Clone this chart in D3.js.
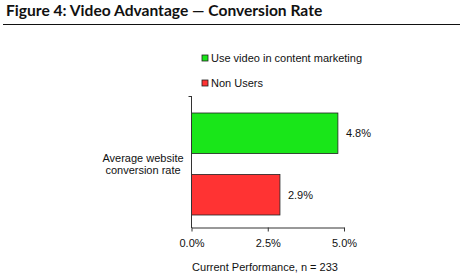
<!DOCTYPE html>
<html>
<head>
<meta charset="utf-8">
<script src="https://cdn.jsdelivr.net/npm/d3@7"></script>
<style>
  body { margin: 0; background: #fff; }
  text { font-family: "Liberation Sans", Arial, sans-serif; fill: #111; }
  .title { font-family: Lato, "DejaVu Sans", sans-serif; font-weight: 700; font-size: 15.6px; }
</style>
</head>
<body>
<script>
// chart data
const series = ["Use video in content marketing", "Non Users"];
const values = [4.8, 2.9];
const colors = ["#19e619", "#ff3333"];
const category = ["Average website", "conversion rate"];
const ticks = [0, 2.5, 5.0];

const W = 460, H = 278;

const svg = d3.select("body").append("svg")
    .attr("width", W)
    .attr("height", H);

// title + rule
svg.append("text")
    .attr("class", "title")
    .attr("x", 6)
    .attr("y", 16)
    .text("Figure 4: Video Advantage \u2014 Conversion Rate");

svg.append("line")
    .attr("x1", 3).attr("x2", W)
    .attr("y1", 24.5).attr("y2", 24.5)
    .attr("stroke", "#111")
    .attr("stroke-width", 1);

const x = d3.scaleLinear().domain([0, 5]).range([191.5, 344]);
const y = d3.scaleBand().domain(series).range([113, 215]).paddingInner(0.34).paddingOuter(0);

// bars
svg.append("g").selectAll("rect")
    .data(series)
    .enter().append("rect")
    .attr("x", x(0))
    .attr("y", d => y(d))
    .attr("width", (d, i) => x(values[i]) - x(0))
    .attr("height", y.bandwidth())
    .attr("fill", (d, i) => colors[i])
    .attr("stroke", "#222")
    .attr("stroke-width", 0.8);

// value labels
svg.append("g").selectAll("text")
    .data(series)
    .enter().append("text")
    .attr("x", (d, i) => x(values[i]) + 8)
    .attr("y", d => y(d) + y.bandwidth() / 2 + 4)
    .attr("font-size", 11)
    .text((d, i) => values[i].toFixed(1) + "%");

// x axis
const xAxis = svg.append("g")
    .attr("transform", "translate(0,227.5)")
    .call(d3.axisBottom(x).tickValues(ticks).tickSize(4).tickSizeOuter(0)
        .tickFormat(d => d.toFixed(1) + "%"));
xAxis.select(".domain").attr("stroke", "#333");
xAxis.selectAll(".tick line").attr("stroke", "#333");
xAxis.selectAll("text").attr("font-size", 11).attr("font-family", "Liberation Sans, Arial, sans-serif").attr("fill", "#111").attr("dy", "1.1em");

// y axis line
svg.append("line")
    .attr("x1", x(0)).attr("x2", x(0))
    .attr("y1", 96).attr("y2", 228)
    .attr("stroke", "#333");
svg.append("line")
    .attr("x1", x(0) - 3).attr("x2", x(0))
    .attr("y1", 96.5).attr("y2", 96.5)
    .attr("stroke", "#333");

// category label
svg.append("text")
    .attr("text-anchor", "middle")
    .attr("font-size", 11)
    .selectAll("tspan")
    .data(category)
    .enter().append("tspan")
    .attr("x", 143)
    .attr("y", (d, i) => 162 + i * 12)
    .text(d => d);

// axis title
svg.append("text")
    .attr("x", 265)
    .attr("y", 271)
    .attr("text-anchor", "middle")
    .attr("font-size", 11)
    .text("Current Performance, n = 233");

// legend
const legend = svg.append("g").selectAll("g")
    .data(series)
    .enter().append("g")
    .attr("transform", (d, i) => `translate(205,${58 + i * 25})`);
legend.append("rect")
    .attr("x", -3).attr("y", -3)
    .attr("width", 6).attr("height", 6)
    .attr("fill", (d, i) => colors[i])
    .attr("stroke", "#222")
    .attr("stroke-width", 0.8);
legend.append("text")
    .attr("x", 6)
    .attr("y", 4)
    .attr("font-size", 11)
    .text(d => d);
</script>
</body>
</html>
